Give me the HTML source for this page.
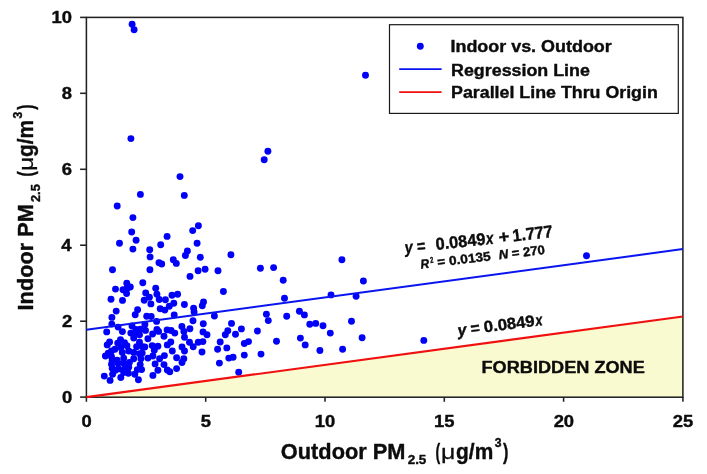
<!DOCTYPE html>
<html><head><meta charset="utf-8"><title>Indoor vs Outdoor PM2.5</title>
<style>html,body{margin:0;padding:0;background:#fff}body{width:707px;height:474px;overflow:hidden}svg{display:block;will-change:transform;opacity:0.999}text{font-family:"Liberation Sans",sans-serif;font-weight:bold;fill:#0c0c0c;stroke:#0c0c0c;stroke-width:0.4px;stroke-linejoin:round}</style></head><body>
<svg width="707" height="474" viewBox="0 0 707 474">
<rect width="707" height="474" fill="#ffffff"/>
<polygon points="86.4,397.1 682.9,316.5 682.9,397.1" fill="#fafad1"/>
<rect x="86.4" y="17.4" width="596.5" height="379.8" fill="none" stroke="#222" stroke-width="1.55"/>
<line x1="86.4" y1="397.1" x2="86.4" y2="401.8" stroke="#222" stroke-width="1.55"/>
<line x1="205.7" y1="397.1" x2="205.7" y2="401.8" stroke="#222" stroke-width="1.55"/>
<line x1="325.0" y1="397.1" x2="325.0" y2="401.8" stroke="#222" stroke-width="1.55"/>
<line x1="444.3" y1="397.1" x2="444.3" y2="401.8" stroke="#222" stroke-width="1.55"/>
<line x1="563.6" y1="397.1" x2="563.6" y2="401.8" stroke="#222" stroke-width="1.55"/>
<line x1="682.9" y1="397.1" x2="682.9" y2="401.8" stroke="#222" stroke-width="1.55"/>
<line x1="80.1" y1="397.1" x2="86.4" y2="397.1" stroke="#222" stroke-width="1.55"/>
<line x1="80.1" y1="321.2" x2="86.4" y2="321.2" stroke="#222" stroke-width="1.55"/>
<line x1="80.1" y1="245.2" x2="86.4" y2="245.2" stroke="#222" stroke-width="1.55"/>
<line x1="80.1" y1="169.3" x2="86.4" y2="169.3" stroke="#222" stroke-width="1.55"/>
<line x1="80.1" y1="93.3" x2="86.4" y2="93.3" stroke="#222" stroke-width="1.55"/>
<line x1="80.1" y1="17.4" x2="86.4" y2="17.4" stroke="#222" stroke-width="1.55"/>
<g fill="#0000fa">
<circle cx="132.1" cy="24.3" r="3.45"/>
<circle cx="134.1" cy="29.7" r="3.45"/>
<circle cx="130.9" cy="138.6" r="3.45"/>
<circle cx="365.5" cy="75.2" r="3.45"/>
<circle cx="267.9" cy="151.2" r="3.45"/>
<circle cx="264.2" cy="159.8" r="3.45"/>
<circle cx="180.0" cy="176.6" r="3.45"/>
<circle cx="140.4" cy="194.4" r="3.45"/>
<circle cx="184.3" cy="195.4" r="3.45"/>
<circle cx="117.2" cy="206.0" r="3.45"/>
<circle cx="132.9" cy="217.6" r="3.45"/>
<circle cx="131.7" cy="232.0" r="3.45"/>
<circle cx="198.4" cy="225.7" r="3.45"/>
<circle cx="192.7" cy="230.6" r="3.45"/>
<circle cx="136.1" cy="240.2" r="3.45"/>
<circle cx="119.5" cy="243.3" r="3.45"/>
<circle cx="132.9" cy="249.1" r="3.45"/>
<circle cx="149.7" cy="249.8" r="3.45"/>
<circle cx="150.1" cy="256.9" r="3.45"/>
<circle cx="112.5" cy="269.7" r="3.45"/>
<circle cx="149.9" cy="269.7" r="3.45"/>
<circle cx="167.1" cy="236.4" r="3.45"/>
<circle cx="160.7" cy="244.8" r="3.45"/>
<circle cx="197.1" cy="243.3" r="3.45"/>
<circle cx="187.4" cy="251.0" r="3.45"/>
<circle cx="185.4" cy="255.5" r="3.45"/>
<circle cx="200.3" cy="257.3" r="3.45"/>
<circle cx="173.3" cy="259.7" r="3.45"/>
<circle cx="176.3" cy="263.4" r="3.45"/>
<circle cx="159.0" cy="262.7" r="3.45"/>
<circle cx="161.7" cy="264.0" r="3.45"/>
<circle cx="198.1" cy="270.7" r="3.45"/>
<circle cx="205.1" cy="269.3" r="3.45"/>
<circle cx="218.0" cy="270.8" r="3.45"/>
<circle cx="230.9" cy="254.8" r="3.45"/>
<circle cx="260.4" cy="268.2" r="3.45"/>
<circle cx="273.6" cy="267.6" r="3.45"/>
<circle cx="283.2" cy="280.2" r="3.45"/>
<circle cx="126.8" cy="283.2" r="3.45"/>
<circle cx="130.3" cy="287.0" r="3.45"/>
<circle cx="142.8" cy="282.7" r="3.45"/>
<circle cx="115.5" cy="289.1" r="3.45"/>
<circle cx="123.0" cy="289.8" r="3.45"/>
<circle cx="126.6" cy="293.6" r="3.45"/>
<circle cx="145.7" cy="293.0" r="3.45"/>
<circle cx="149.4" cy="297.2" r="3.45"/>
<circle cx="144.2" cy="300.2" r="3.45"/>
<circle cx="150.9" cy="303.9" r="3.45"/>
<circle cx="111.0" cy="299.2" r="3.45"/>
<circle cx="122.5" cy="300.4" r="3.45"/>
<circle cx="116.2" cy="311.1" r="3.45"/>
<circle cx="137.6" cy="309.8" r="3.45"/>
<circle cx="135.2" cy="314.8" r="3.45"/>
<circle cx="190.0" cy="276.4" r="3.45"/>
<circle cx="155.7" cy="288.3" r="3.45"/>
<circle cx="156.9" cy="294.3" r="3.45"/>
<circle cx="159.2" cy="299.5" r="3.45"/>
<circle cx="165.4" cy="299.7" r="3.45"/>
<circle cx="172.0" cy="295.3" r="3.45"/>
<circle cx="177.6" cy="294.3" r="3.45"/>
<circle cx="173.8" cy="303.2" r="3.45"/>
<circle cx="169.3" cy="306.2" r="3.45"/>
<circle cx="184.4" cy="304.5" r="3.45"/>
<circle cx="160.2" cy="308.8" r="3.45"/>
<circle cx="164.8" cy="310.1" r="3.45"/>
<circle cx="203.5" cy="301.9" r="3.45"/>
<circle cx="202.3" cy="305.7" r="3.45"/>
<circle cx="193.6" cy="308.2" r="3.45"/>
<circle cx="194.1" cy="312.0" r="3.45"/>
<circle cx="174.2" cy="315.0" r="3.45"/>
<circle cx="223.4" cy="291.5" r="3.45"/>
<circle cx="284.5" cy="298.2" r="3.45"/>
<circle cx="266.4" cy="314.2" r="3.45"/>
<circle cx="111.9" cy="317.4" r="3.45"/>
<circle cx="111.8" cy="324.1" r="3.45"/>
<circle cx="118.1" cy="327.1" r="3.45"/>
<circle cx="122.4" cy="331.6" r="3.45"/>
<circle cx="106.7" cy="331.9" r="3.45"/>
<circle cx="132.0" cy="326.0" r="3.45"/>
<circle cx="130.8" cy="333.1" r="3.45"/>
<circle cx="146.7" cy="316.3" r="3.45"/>
<circle cx="151.2" cy="316.5" r="3.45"/>
<circle cx="156.6" cy="321.4" r="3.45"/>
<circle cx="144.9" cy="324.5" r="3.45"/>
<circle cx="140.4" cy="329.1" r="3.45"/>
<circle cx="145.5" cy="330.4" r="3.45"/>
<circle cx="156.9" cy="329.4" r="3.45"/>
<circle cx="158.6" cy="331.4" r="3.45"/>
<circle cx="136.4" cy="333.1" r="3.45"/>
<circle cx="152.6" cy="334.0" r="3.45"/>
<circle cx="193.0" cy="320.8" r="3.45"/>
<circle cx="181.9" cy="326.5" r="3.45"/>
<circle cx="189.9" cy="328.8" r="3.45"/>
<circle cx="183.9" cy="331.4" r="3.45"/>
<circle cx="167.1" cy="329.9" r="3.45"/>
<circle cx="171.1" cy="330.5" r="3.45"/>
<circle cx="174.8" cy="333.1" r="3.45"/>
<circle cx="214.4" cy="316.0" r="3.45"/>
<circle cx="203.3" cy="323.7" r="3.45"/>
<circle cx="231.5" cy="323.4" r="3.45"/>
<circle cx="203.0" cy="331.9" r="3.45"/>
<circle cx="207.0" cy="334.8" r="3.45"/>
<circle cx="227.8" cy="330.8" r="3.45"/>
<circle cx="225.3" cy="334.8" r="3.45"/>
<circle cx="235.5" cy="334.2" r="3.45"/>
<circle cx="268.3" cy="320.6" r="3.45"/>
<circle cx="286.7" cy="316.3" r="3.45"/>
<circle cx="299.4" cy="311.2" r="3.45"/>
<circle cx="304.4" cy="314.9" r="3.45"/>
<circle cx="309.8" cy="324.2" r="3.45"/>
<circle cx="315.7" cy="323.4" r="3.45"/>
<circle cx="323.0" cy="325.7" r="3.45"/>
<circle cx="330.3" cy="333.1" r="3.45"/>
<circle cx="241.4" cy="328.9" r="3.45"/>
<circle cx="257.4" cy="331.0" r="3.45"/>
<circle cx="248.5" cy="341.6" r="3.45"/>
<circle cx="244.3" cy="343.5" r="3.45"/>
<circle cx="276.5" cy="341.2" r="3.45"/>
<circle cx="300.4" cy="338.1" r="3.45"/>
<circle cx="305.2" cy="344.9" r="3.45"/>
<circle cx="319.9" cy="350.5" r="3.45"/>
<circle cx="244.3" cy="355.1" r="3.45"/>
<circle cx="261.0" cy="354.1" r="3.45"/>
<circle cx="233.1" cy="357.2" r="3.45"/>
<circle cx="341.9" cy="259.8" r="3.45"/>
<circle cx="363.4" cy="281.0" r="3.45"/>
<circle cx="331.0" cy="294.9" r="3.45"/>
<circle cx="356.1" cy="296.3" r="3.45"/>
<circle cx="351.5" cy="321.2" r="3.45"/>
<circle cx="362.1" cy="337.8" r="3.45"/>
<circle cx="342.6" cy="349.2" r="3.45"/>
<circle cx="423.8" cy="340.4" r="3.45"/>
<circle cx="586.5" cy="255.8" r="3.45"/>
<circle cx="135.9" cy="329.4" r="3.45"/>
<circle cx="139.5" cy="334.8" r="3.45"/>
<circle cx="133.7" cy="338.0" r="3.45"/>
<circle cx="109.6" cy="342.0" r="3.45"/>
<circle cx="107.2" cy="344.9" r="3.45"/>
<circle cx="120.5" cy="339.8" r="3.45"/>
<circle cx="117.7" cy="343.1" r="3.45"/>
<circle cx="124.5" cy="342.7" r="3.45"/>
<circle cx="126.9" cy="345.8" r="3.45"/>
<circle cx="120.8" cy="347.4" r="3.45"/>
<circle cx="139.5" cy="342.3" r="3.45"/>
<circle cx="136.6" cy="346.7" r="3.45"/>
<circle cx="142.3" cy="346.7" r="3.45"/>
<circle cx="111.5" cy="351.0" r="3.45"/>
<circle cx="105.4" cy="356.0" r="3.45"/>
<circle cx="111.5" cy="356.7" r="3.45"/>
<circle cx="122.3" cy="352.4" r="3.45"/>
<circle cx="128.7" cy="351.0" r="3.45"/>
<circle cx="133.7" cy="352.4" r="3.45"/>
<circle cx="123.7" cy="358.1" r="3.45"/>
<circle cx="133.7" cy="358.8" r="3.45"/>
<circle cx="139.5" cy="353.8" r="3.45"/>
<circle cx="140.9" cy="358.8" r="3.45"/>
<circle cx="147.9" cy="338.8" r="3.45"/>
<circle cx="164.0" cy="336.2" r="3.45"/>
<circle cx="184.5" cy="337.3" r="3.45"/>
<circle cx="189.5" cy="342.3" r="3.45"/>
<circle cx="170.8" cy="342.0" r="3.45"/>
<circle cx="167.3" cy="344.9" r="3.45"/>
<circle cx="152.2" cy="345.6" r="3.45"/>
<circle cx="157.9" cy="346.3" r="3.45"/>
<circle cx="144.8" cy="347.0" r="3.45"/>
<circle cx="154.3" cy="350.2" r="3.45"/>
<circle cx="172.3" cy="351.0" r="3.45"/>
<circle cx="182.0" cy="347.0" r="3.45"/>
<circle cx="184.5" cy="351.0" r="3.45"/>
<circle cx="142.2" cy="353.1" r="3.45"/>
<circle cx="164.4" cy="355.6" r="3.45"/>
<circle cx="152.9" cy="356.0" r="3.45"/>
<circle cx="159.6" cy="358.8" r="3.45"/>
<circle cx="147.9" cy="358.1" r="3.45"/>
<circle cx="176.6" cy="357.8" r="3.45"/>
<circle cx="183.8" cy="358.8" r="3.45"/>
<circle cx="202.9" cy="341.6" r="3.45"/>
<circle cx="198.3" cy="342.3" r="3.45"/>
<circle cx="193.2" cy="346.7" r="3.45"/>
<circle cx="202.0" cy="352.0" r="3.45"/>
<circle cx="220.2" cy="342.0" r="3.45"/>
<circle cx="217.6" cy="349.2" r="3.45"/>
<circle cx="226.8" cy="347.9" r="3.45"/>
<circle cx="228.8" cy="358.1" r="3.45"/>
<circle cx="219.4" cy="363.1" r="3.45"/>
<circle cx="112.2" cy="360.3" r="3.45"/>
<circle cx="118.0" cy="363.2" r="3.45"/>
<circle cx="129.4" cy="362.5" r="3.45"/>
<circle cx="140.2" cy="364.6" r="3.45"/>
<circle cx="112.2" cy="368.2" r="3.45"/>
<circle cx="118.7" cy="368.9" r="3.45"/>
<circle cx="125.1" cy="368.2" r="3.45"/>
<circle cx="137.3" cy="369.6" r="3.45"/>
<circle cx="141.6" cy="369.6" r="3.45"/>
<circle cx="104.3" cy="376.1" r="3.45"/>
<circle cx="112.6" cy="374.3" r="3.45"/>
<circle cx="110.1" cy="380.4" r="3.45"/>
<circle cx="120.8" cy="377.5" r="3.45"/>
<circle cx="128.4" cy="373.2" r="3.45"/>
<circle cx="134.8" cy="374.3" r="3.45"/>
<circle cx="138.4" cy="379.7" r="3.45"/>
<circle cx="123.7" cy="372.5" r="3.45"/>
<circle cx="155.1" cy="363.9" r="3.45"/>
<circle cx="164.0" cy="364.6" r="3.45"/>
<circle cx="157.9" cy="370.3" r="3.45"/>
<circle cx="152.9" cy="375.4" r="3.45"/>
<circle cx="167.3" cy="370.0" r="3.45"/>
<circle cx="169.8" cy="371.8" r="3.45"/>
<circle cx="176.6" cy="368.6" r="3.45"/>
<circle cx="182.0" cy="362.5" r="3.45"/>
<circle cx="238.7" cy="372.3" r="3.45"/>
<circle cx="127.0" cy="288.5" r="3.45"/>
<circle cx="115.0" cy="349.3" r="3.45"/>
<circle cx="117.2" cy="360.3" r="3.45"/>
<circle cx="123.7" cy="363.3" r="3.45"/>
<circle cx="115.4" cy="370.3" r="3.45"/>
<circle cx="128.7" cy="367.3" r="3.45"/>
<circle cx="111.5" cy="364.2" r="3.45"/>
<circle cx="108.2" cy="353.2" r="3.45"/>
</g>
<line x1="86.4" y1="329.7" x2="682.9" y2="249.1" stroke="#0a14f0" stroke-width="2"/>
<line x1="86.4" y1="397.1" x2="682.9" y2="316.5" stroke="#f01010" stroke-width="2.1"/>
<rect x="389.5" y="24.7" width="288.8" height="88.7" fill="#fff" stroke="#1a1a1a" stroke-width="1.2"/>
<circle cx="420.3" cy="46.2" r="3.45" fill="#0000fa"/>
<line x1="399.2" y1="69.2" x2="441.6" y2="69.2" stroke="#0a14f0" stroke-width="1.8"/>
<line x1="399.2" y1="92.1" x2="441.6" y2="92.1" stroke="#f01010" stroke-width="1.8"/>
<text transform="translate(450.45,52.30) scale(1.0427,1)" font-size="17.2" xml:space="preserve" >Indoor vs. Outdoor</text>
<text transform="translate(451.05,75.50) scale(1.0386,1)" font-size="17.2" xml:space="preserve" >Regression Line</text>
<text transform="translate(451.06,98.30) scale(1.0354,1)" font-size="17.2" xml:space="preserve" >Parallel Line Thru Origin</text>
<text transform="translate(481.53,372.80) scale(1.0553,1)" font-size="17.2" xml:space="preserve" >FORBIDDEN ZONE</text>
<text transform="translate(280.86,458.60) scale(0.9903,1)" font-size="22.0" xml:space="preserve" >Outdoor PM</text>
<text transform="translate(407.66,464.40) scale(0.9889,1)" font-size="13.6" xml:space="preserve" >2.5</text>
<text transform="translate(435.41,458.60) scale(0.6400,1)" font-size="22.0" xml:space="preserve" >(</text>
<text transform="translate(440.89,458.60) scale(1.2457,1)" font-size="20.0" xml:space="preserve" style="font-weight:normal;stroke-width:0.25px">μ</text>
<text transform="translate(456.10,458.60) scale(0.9497,1)" font-size="22.0" xml:space="preserve" >g/m</text>
<text transform="translate(494.82,447.40) scale(0.9385,1)" font-size="13.0" xml:space="preserve" >3</text>
<text transform="translate(503.05,458.60) scale(0.7360,1)" font-size="22.0" xml:space="preserve" >)</text>
<text transform="translate(32.60,310.43) rotate(-90.00) scale(0.9885,1)" font-size="22.0" xml:space="preserve" >Indoor PM</text>
<text transform="translate(39.50,202.02) rotate(-90.00) scale(0.9389,1)" font-size="13.6" xml:space="preserve" >2.5</text>
<text transform="translate(32.60,176.55) rotate(-90.00) scale(0.7040,1)" font-size="22.0" xml:space="preserve" >(</text>
<text transform="translate(32.60,171.01) rotate(-90.00) scale(1.2457,1)" font-size="20.0" xml:space="preserve" style="font-weight:normal;stroke-width:0.25px">μ</text>
<text transform="translate(32.60,157.00) rotate(-90.00) scale(0.9524,1)" font-size="22.0" xml:space="preserve" >g/m</text>
<text transform="translate(21.80,118.38) rotate(-90.00) scale(0.9385,1)" font-size="13.0" xml:space="preserve" >3</text>
<text transform="translate(32.60,109.85) rotate(-90.00) scale(0.7200,1)" font-size="22.0" xml:space="preserve" >)</text>
<text transform="translate(405.29,253.53) rotate(-6.40) scale(0.8631,1)" font-size="17.0" xml:space="preserve" ><tspan font-style="italic">y</tspan> =</text>
<text transform="translate(436.33,250.05) rotate(-6.40) scale(0.9604,1)" font-size="17.0" xml:space="preserve" >0.0849</text>
<text transform="translate(486.55,244.41) rotate(-6.40) scale(0.7954,1)" font-size="17.0" xml:space="preserve" ><tspan font-style="italic">x</tspan></text>
<text transform="translate(499.25,242.99) rotate(-6.40) scale(1.0773,1)" font-size="17.0" xml:space="preserve" >+</text>
<text transform="translate(513.11,241.43) rotate(-6.40) scale(0.9458,1)" font-size="17.0" xml:space="preserve" >1.777</text>
<text transform="translate(420.92,268.63) rotate(-6.80) scale(0.9399,1)" font-size="12.8" xml:space="preserve" ><tspan font-style="italic">R</tspan></text>
<text transform="translate(430.59,263.07) rotate(-6.80) scale(0.6635,1)" font-size="8.5" xml:space="preserve" >2</text>
<text transform="translate(437.82,266.61) rotate(-6.80) scale(1.0695,1)" font-size="12.8" xml:space="preserve" >= 0.0135</text>
<text transform="translate(499.20,259.29) rotate(-6.80) scale(1.0252,1)" font-size="12.8" xml:space="preserve" ><tspan font-style="italic">N</tspan> = 270</text>
<text transform="translate(458.14,335.94) rotate(-7.30) scale(0.9794,1)" font-size="16.2" xml:space="preserve" ><tspan font-style="italic">y</tspan> =</text>
<text transform="translate(484.58,332.55) rotate(-7.30) scale(1.0301,1)" font-size="16.2" xml:space="preserve" >0.0849</text>
<text transform="translate(536.03,325.96) rotate(-7.30) scale(0.7763,1)" font-size="16.2" xml:space="preserve" ><tspan font-style="italic">x</tspan></text>
<text transform="translate(81.52,427.10) scale(1.0700,1)" font-size="17.2" xml:space="preserve" >0</text>
<text transform="translate(200.82,427.10) scale(1.0700,1)" font-size="17.2" xml:space="preserve" >5</text>
<text transform="translate(314.77,427.10) scale(1.0700,1)" font-size="17.2" xml:space="preserve" >10</text>
<text transform="translate(433.93,427.10) scale(1.0700,1)" font-size="17.2" xml:space="preserve" >15</text>
<text transform="translate(553.64,427.10) scale(1.0700,1)" font-size="17.2" xml:space="preserve" >20</text>
<text transform="translate(672.80,427.10) scale(1.0700,1)" font-size="17.2" xml:space="preserve" >25</text>
<text transform="translate(62.04,403.15) scale(1.0700,1)" font-size="17.2" xml:space="preserve" >0</text>
<text transform="translate(62.04,327.20) scale(1.0700,1)" font-size="17.2" xml:space="preserve" >2</text>
<text transform="translate(61.24,251.25) scale(1.0700,1)" font-size="17.2" xml:space="preserve" >4</text>
<text transform="translate(61.77,175.30) scale(1.0700,1)" font-size="17.2" xml:space="preserve" >6</text>
<text transform="translate(61.77,99.35) scale(1.0700,1)" font-size="17.2" xml:space="preserve" >8</text>
<text transform="translate(51.61,23.40) scale(1.0700,1)" font-size="17.2" xml:space="preserve" >10</text>
</svg></body></html>
